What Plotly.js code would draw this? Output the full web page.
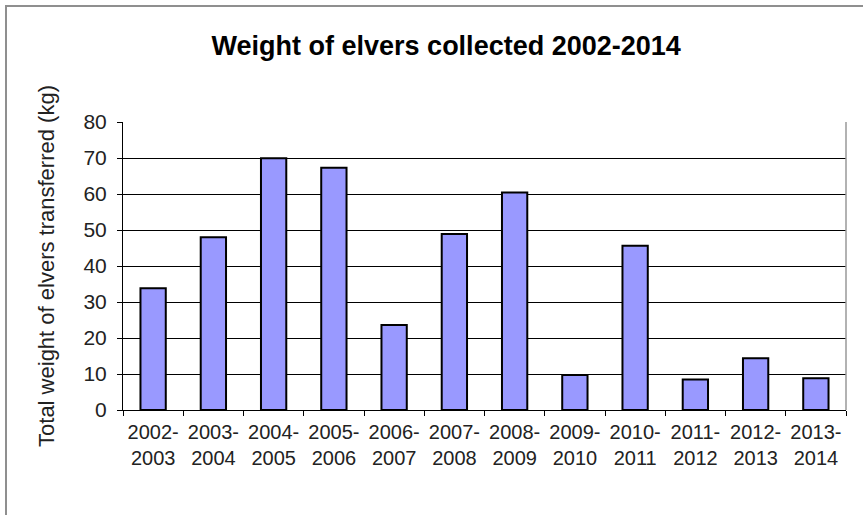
<!DOCTYPE html>
<html>
<head>
<meta charset="utf-8">
<script src="https://cdn.plot.ly/plotly-3.0.1.min.js"></script>
<style>
  html, body { margin: 0; padding: 0; background: #fff; }
  #wrap { position: relative; width: 863px; height: 515px; overflow: hidden; background: #fff; }
  #chart { position: absolute; left: 0; top: 0; width: 863px; height: 515px; }
  /* thin frame along the top and left edges of the chart */
  #frame {
    position: absolute; left: 5px; top: 5px; width: 900px; height: 600px;
    border-left: 2px solid #8f8f8f; border-top: 2px solid #8f8f8f;
    box-sizing: border-box; pointer-events: none; z-index: 10;
  }
</style>
</head>
<body>
<div id="wrap">
  <div id="chart"></div>
  <div id="frame"></div>
</div>
<script>
// Elver collection seasons and the weight transferred in each (kg)
const seasons = [
  "2002-<br>2003", "2003-<br>2004", "2004-<br>2005", "2005-<br>2006",
  "2006-<br>2007", "2007-<br>2008", "2008-<br>2009", "2009-<br>2010",
  "2010-<br>2011", "2011-<br>2012", "2012-<br>2013", "2013-<br>2014"
];
const weightKg = [33.8, 48, 69.9, 67.3, 23.6, 48.9, 60.4, 9.7, 45.6, 8.5, 14.4, 8.8];
const yTicks = [0, 10, 20, 30, 40, 50, 60, 70, 80];

const font = "Liberation Sans, Arial, sans-serif";

const trace = {
  type: "bar",
  x: seasons,
  y: weightKg,
  marker: { color: "#9999ff", line: { color: "#000000", width: 2 } },
  width: 0.42,
  hoverinfo: "x+y"
};

const layout = {
  width: 863,
  height: 515,
  margin: { l: 123, r: 17, t: 122, b: 105 },
  paper_bgcolor: "rgba(0,0,0,0)",
  plot_bgcolor: "#ffffff",
  showlegend: false,
  title: {
    text: "<b>Weight of elvers collected 2002-2014</b>",
    font: { family: font, size: 27, color: "#000000" },
    xref: "paper", x: 0.447, xanchor: "center",
    yref: "container", y: 0.912, yanchor: "middle"
  },
  xaxis: {
    type: "category",
    showline: true, linecolor: "#000000", linewidth: 1,
    ticks: "outside", tickson: "boundaries", ticklen: 5, tickcolor: "#000000",
    ticklabelstandoff: 4,
    tickfont: { family: font, size: 20, color: "#222222" },
    showgrid: false,
    fixedrange: true
  },
  yaxis: {
    range: [0, 80],
    tickvals: yTicks,
    showline: true, linecolor: "#000000", linewidth: 1,
    ticks: "outside", ticklen: 5, tickcolor: "#000000",
    ticklabelstandoff: 6,
    tickfont: { family: font, size: 21, color: "#222222" },
    showgrid: true, gridcolor: "#000000", gridwidth: 1,
    zeroline: false,
    title: {
      text: "Total weight of elvers transferred (kg)",
      font: { family: font, size: 22, color: "#222222" },
      standoff: 22
    },
    fixedrange: true
  },
  shapes: [
    // right edge of the plotting area
    { type: "line", xref: "paper", yref: "paper", x0: 1, x1: 1, y0: 0, y1: 1,
      line: { color: "#999999", width: 1.5 } }
  ]
};

Plotly.newPlot("chart", [trace], layout, { displayModeBar: false, staticPlot: true });
</script>
</body>
</html>
